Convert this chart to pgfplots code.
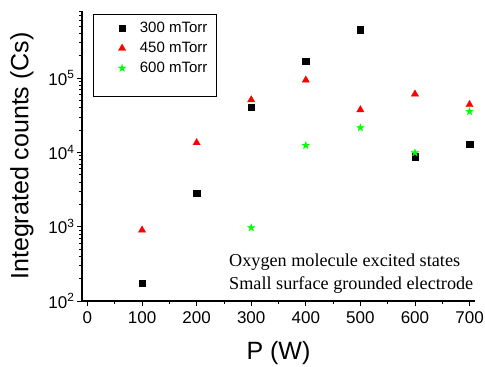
\documentclass[border=0pt]{standalone}
\usepackage{fontspec}
\setmainfont{Liberation Sans}
\newfontfamily\serifx{Liberation Serif}
\usepackage{pgfplots}
\pgfplotsset{compat=1.18}

\pgfdeclareplotmark{fstar}{%
  \pgfpathmoveto{\pgfpoint{0pt}{\pgfplotmarksize}}%
  \pgfpathlineto{\pgfpoint{-0.235\pgfplotmarksize}{0.324\pgfplotmarksize}}%
  \pgfpathlineto{\pgfpoint{-0.951\pgfplotmarksize}{0.309\pgfplotmarksize}}%
  \pgfpathlineto{\pgfpoint{-0.380\pgfplotmarksize}{-0.124\pgfplotmarksize}}%
  \pgfpathlineto{\pgfpoint{-0.588\pgfplotmarksize}{-0.809\pgfplotmarksize}}%
  \pgfpathlineto{\pgfpoint{0pt}{-0.4\pgfplotmarksize}}%
  \pgfpathlineto{\pgfpoint{0.588\pgfplotmarksize}{-0.809\pgfplotmarksize}}%
  \pgfpathlineto{\pgfpoint{0.380\pgfplotmarksize}{-0.124\pgfplotmarksize}}%
  \pgfpathlineto{\pgfpoint{0.951\pgfplotmarksize}{0.309\pgfplotmarksize}}%
  \pgfpathlineto{\pgfpoint{0.235\pgfplotmarksize}{0.324\pgfplotmarksize}}%
  \pgfpathclose
  \pgfusepathqfillstroke
}

\begin{document}
\begin{tikzpicture}
\begin{axis}[
  scale only axis,
  width=393pt, height=290pt,
  xmin=-10, xmax=710,
  ymode=log, ymin=100, ymax=8e5,
  axis x line=bottom, axis y line=left,
  axis line style={-, line width=1.2pt},
  xtick={0,100,...,700},
  minor xtick={50,150,...,650},
  ytick={100,1000,10000,100000},
  yticklabels={10\textsuperscript{2},10\textsuperscript{3},10\textsuperscript{4},10\textsuperscript{5}},
  minor ytick={200,300,400,500,600,700,800,900,2000,3000,4000,5000,6000,7000,8000,9000,20000,30000,40000,50000,60000,70000,80000,90000,200000,300000,400000,500000,600000,700000,800000},
  tick align=outside,
  major tick length=5pt, minor tick length=3pt,
  tick style={line width=0.8pt, black},
  tick label style={font=\fontsize{17}{20}\selectfont},
  xticklabel style={yshift=-2pt},
  yticklabel style={xshift=1pt},
  /pgf/number format/assume math mode=true,
  xlabel={P (W)},
  ylabel={Integrated counts (Cs)},
  label style={font=\fontsize{25}{30}\selectfont},
  xlabel style={yshift=-11pt},
  ylabel style={yshift=8pt},
  legend cell align=left,
  legend style={at={(rel axis cs:0.028,0.99)}, anchor=north west,
    draw=black, line width=0.8pt, font=\fontsize{15}{18}\selectfont,
    inner xsep=3pt, inner ysep=6pt, row sep=4pt},
  legend image code/.code={\path (0cm,0cm) (1.45cm,0cm); \draw[mark repeat=1,#1] plot coordinates {(0.9cm,0cm)};},
]
\addplot[only marks, mark=square*, mark size=3.2pt, black, line width=0.2pt] coordinates {
  (100,175) (200,2850) (300,41000) (400,168000) (500,450000) (600,8800) (700,13000)
};
\addlegendentry{300 mTorr\hspace*{4pt}}
\addplot[only marks, mark=triangle*, mark size=4.3pt, red, line width=0.2pt] coordinates {
  (100,900) (200,13500) (300,51000) (400,94000) (500,37500) (600,61000) (700,44000)
};
\addlegendentry{450 mTorr\hspace*{4pt}}
\addplot[only marks, mark=fstar, mark size=4pt, color={rgb,255:red,0;green,255;blue,0}, line width=0.2pt] coordinates {
  (300,970) (400,12400) (500,21500) (600,9900) (700,35500)
};
\addlegendentry{600 mTorr\hspace*{4pt}}
\addlegendimage{empty legend}
\addlegendentry{\rule[-1pt]{0pt}{6pt}}
\node[anchor=south west, align=left, inner sep=0pt, font=\serifx\fontsize{18.2}{23.5}\selectfont]
  at (rel axis cs:0.374,0.024) {Oxygen molecule excited states\\Small surface grounded electrode};
\end{axis}
\pgfresetboundingbox
\path[use as bounding box] ([xshift=-82pt,yshift=11pt]current axis.north west) rectangle ([xshift=10pt,yshift=-65pt]current axis.south east);
\end{tikzpicture}
\end{document}
